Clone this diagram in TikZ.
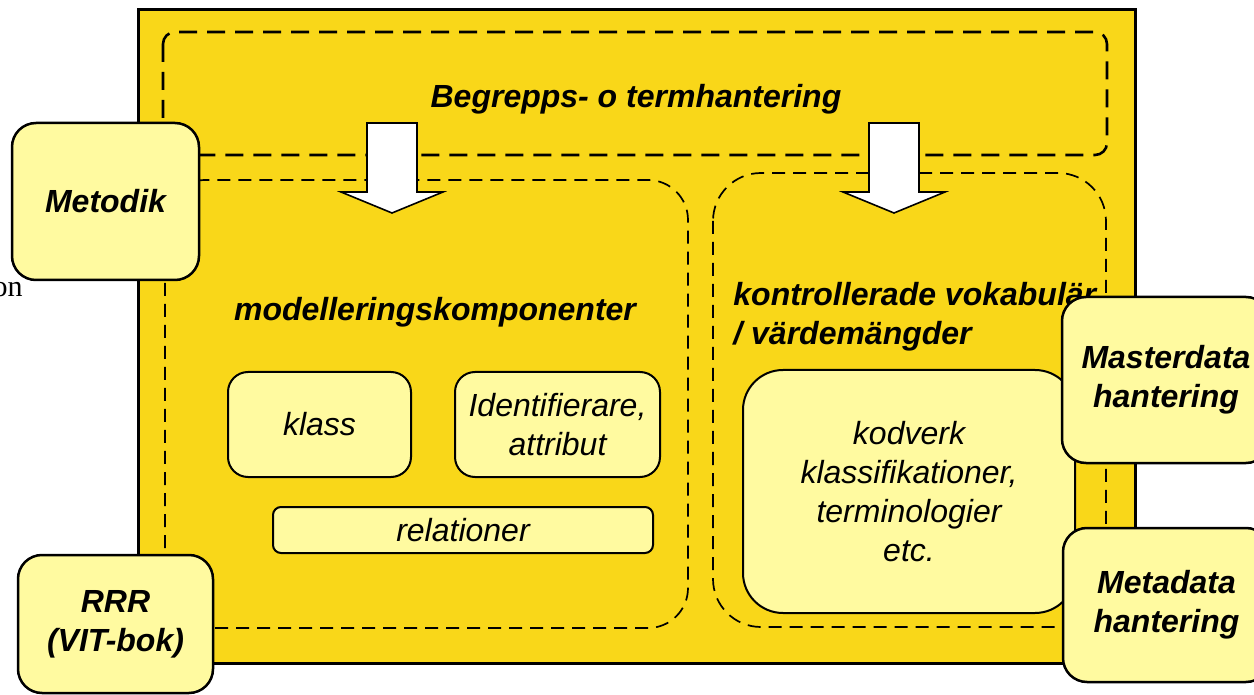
\documentclass[tikz,border=0pt]{standalone}
\usepackage{fontspec}
\setmainfont{Liberation Sans}
\newfontfamily\serifon{Liberation Serif}
\usepackage{tikz}
\usetikzlibrary{positioning}
\definecolor{gold}{RGB}{249,215,25}
\definecolor{paleyel}{RGB}{255,250,160}
\newcommand{\diagsize}{\fontsize{16}{19.5}\selectfont}
\tikzstyle{frame} = [draw, line width=1.5pt, fill=gold]
\tikzstyle{toparea} = [draw, line width=1.3pt, dash pattern=on 9pt off 5pt, rounded corners=6pt]
\tikzstyle{area} = [draw, line width=0.85pt, dash pattern=on 6.5pt off 4pt]
\tikzstyle{side} = [rectangle, draw, line width=1.25pt, fill=paleyel, rounded corners=12pt, font=\diagsize\bfseries\itshape, align=center, inner sep=0pt]
\tikzstyle{inbox} = [rectangle, draw, line width=1pt, fill=paleyel, font=\diagsize\itshape, align=center, inner sep=0pt]
\tikzstyle{label} = [font=\diagsize\bfseries\itshape, inner sep=0pt]
\tikzstyle{blockarrow} = [draw, line width=0.8pt, fill=white]

\begin{document}
\begin{tikzpicture}[x=0.5pt, y=-0.5pt]
\useasboundingbox (0,0) rectangle (1254,695);
\clip (0,0) rectangle (1254,695);

\draw [frame] (138,10) rectangle (1135,663);
\draw [toparea] (163,32) rectangle (1107,155);
\draw [area, rounded corners=20pt] (165,180) rectangle (688,628);
\draw [area, rounded corners=24pt] (713,173) rectangle (1106,627);

\foreach \x in {392,894}
  \draw [blockarrow] (\x-25,123) -- (\x+25,123) -- (\x+25,192) -- (\x+51,192)
    -- (\x,213) -- (\x-51,192) -- (\x-25,192) -- cycle;

\node [label, anchor=base] (term) at (636,108) {Begrepps- o termhantering};
\node [label, anchor=base] (model) at (435,321) {modelleringskomponenter};
\node [label, anchor=north west, align=left] (vocab) at (733,282) {kontrollerade vokabulär\\/ värdemängder};

\node [inbox, rounded corners=10pt, minimum width=91.5pt, minimum height=52.5pt] (klass) at (319.5,424.5) {klass};
\node [inbox, rounded corners=10pt, minimum width=102.5pt, minimum height=52.5pt] (ident) at (557.5,424.5) {Identifierare,\\attribut};
\node [inbox, rounded corners=4pt, minimum width=190pt, minimum height=23pt] (rel) at (463,530) {relationer};
\node [inbox, rounded corners=20pt, minimum width=166pt, minimum height=121.5pt] (kod) at (909,491.5) {kodverk\\klassifikationer,\\ terminologier\\etc.};

\node [side, minimum width=93.5pt, minimum height=78.5pt] (metodik) at (105.5,201.5) {Metodik};
\node [side, minimum width=97.5pt, minimum height=69pt] (rrr) at (115.5,624) {RRR\\(VIT-bok)};
\node [side, minimum width=104pt, minimum height=83pt] (master) at (1166,380) {Masterdata\\hantering};
\node [side, minimum width=103.5pt, minimum height=77pt] (meta) at (1166.5,605) {Metadata\\hantering};

\node [font=\serifon\fontsize{15}{18}\selectfont, anchor=base east, inner sep=0pt] (on) at (23,297) {on};
\end{tikzpicture}
\end{document}
